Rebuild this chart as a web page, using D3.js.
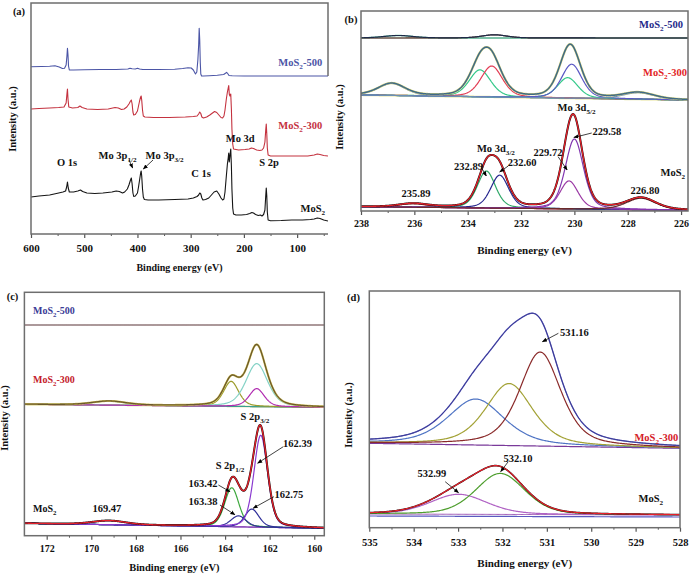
<!DOCTYPE html>
<html><head><meta charset="utf-8">
<script src="https://cdn.jsdelivr.net/npm/d3@7"></script>
<style>body{margin:0;background:#fff}svg{display:block}</style>
</head><body><svg id="c" width="690" height="578"></svg>
<script>
// ================= DATA =================
// (a) survey spectra: [binding energy eV, intensity a.u.]
const surveyTicks = [600, 500, 400, 300, 200, 100];
const surveyMoS2 = [[600,37],[585,38],[565,39],[548,41],[540,42],[535,43],[533,47],[531.5,52],[530,46],[528,42],[520,42],[512,43],[507,44],[503,42.5],[495,41],[480,40.5],[465,41],[448,42],[440,43],[434,42.5],[428,41],[424,42],[419,45],[416,49],[413,54],[411.5,56],[410,50],[408.5,41],[407,37.5],[404,38],[400,41],[398,47],[396,54],[394,61],[393,63],[392,58],[390.5,45],[389,37],[387,34.5],[380,34],[360,34],[330,34.5],[305,35],[295,36],[288,37.5],[285,39],[283,41],[281,40],[279,36],[277,34],[272,34.5],[266,36],[261,39],[256,42],[251,43],[247,40],[243,36],[240,34],[237.5,35],[235.5,42],[233,58],[231,70],[229.5,76],[228.5,81],[227.5,72],[226.3,78],[224.7,85],[223.5,68],[222.5,45],[221,26],[219.5,20],[215,19],[205,19],[195,19.5],[189,20.5],[185,21.5],[182,21],[178,19.5],[173,18.5],[169,19],[166,18],[163,19.5],[160.5,24],[159,38],[158,46],[157,38],[156,22],[154.5,14],[150,13.3],[130,13.5],[110,14],[90,14],[75,14.5],[68,15],[62,16],[57,15.5],[50,14],[42,13]];
const survey300 = [[600,125],[585,125.5],[565,126],[548,126.5],[538,127],[534,131],[532.5,140],[531.5,145],[530.5,135],[529,127],[522,126],[512,126.5],[508,128],[504,126.5],[495,125],[475,124.5],[455,125],[442,126.5],[436,126],[430,124.5],[425,125],[420,127],[416,130],[413,133],[411.5,134],[410,130],[408.5,122],[407,119],[404,119.5],[400,123],[398,128],[396,133],[394,137],[393,138],[392,134],[390.5,124],[389,118],[386,117],[370,116.5],[340,116.5],[310,117],[295,117.5],[288,118],[285,120],[283,122],[281,120.5],[279,117],[276,116],[270,117],[264,119],[259,121],[255,122.5],[251,121.5],[247,119],[243,116.5],[240,116],[237.5,118],[235.5,124],[233,135],[231,142],[229.5,146],[228.5,148.5],[227.5,140],[226.3,138],[224.7,140],[223.5,125],[222.5,105],[221,90],[219.5,85],[210,84],[198,84.5],[190,85],[186,86],[182,85.5],[176,84],[170,83.5],[166,84],[163,86],[160.5,92],[159,104],[158,110],[157,100],[156,86],[154.5,79],[150,78],[130,78],[100,78],[80,78],[68,79],[62,80],[57,79.5],[50,78.5],[42,78]];
const survey500 = [[600,167.3],[580,167.5],[565,167.8],[555,168.3],[547,167],[541,165.5],[537,165.8],[534,169],[532.5,178],[531.5,185.7],[530.5,179],[529.5,168],[528,164],[520,164],[500,164.3],[470,164.5],[440,164.5],[418,165],[414,165.8],[410,165.2],[404,165],[400,165.7],[396,165],[390,164.5],[360,164.5],[330,164.8],[315,165.5],[305,166.3],[299,166],[295,164],[291,160],[288.5,162],[286.5,174],[285,189],[284,205.7],[283,194],[282,172],[281,160],[279.5,158],[276,158],[265,158.3],[250,158.7],[238,159.5],[234,161],[232.5,161.7],[230.5,160.5],[228,158.5],[222,158.2],[200,158],[150,158],[100,158],[60,158],[42,158]];

// (b) Mo 3d fits: baseline [left,right], peak centres (eV), heights, FWHM (eV)
const bTicks = [238, 236, 234, 232, 230, 228, 226];
const b500Baseline = [173, 173];
const b500Center = [236.6, 233.0];
const b500Height = [2.5, 3.2];
const b500Fwhm = [1.3, 1.1];
const b300Baseline = [116, 111];
const b300Center = [236.85, 233.54, 233.1, 230.25, 230.1, 227.6];
const b300Height = [12, 27, 31, 20.5, 34, 6.5];
const b300Fwhm = [1.2, 0.95, 0.95, 0.9, 0.9, 1.4];
const bMoS2Baseline = [4.3, 0.8];
const bMoS2Center = [236.04, 233.3, 232.8, 230.2, 230.0, 227.5];
const bMoS2Height = [3.5, 37, 33, 28, 70, 11.5];
const bMoS2Fwhm = [1.3, 0.8, 0.8, 0.8, 0.8, 1.3];

// (c) S 2p fits
const cTicks = [172, 170, 168, 166, 164, 162, 160];
const c500Baseline = [210.7, 210.7];
const c300Baseline = [131.4, 128.4];
const c300Center = [169.2, 163.73, 162.58, 162.58];
const c300Height = [4, 25, 43, 18];
const c300Fwhm = [1.8, 0.8, 1.15, 0.8];
const cMoS2Baseline = [12.4, 7.4];
const cMoS2Center = [169.2, 163.7, 163.4, 162.8, 162.4];
const cMoS2Height = [4, 39, 11, 18, 92];
const cMoS2Fwhm = [1.8, 0.75, 0.8, 0.75, 0.72];

// (d) O 1s fits
const dTicks = [535, 534, 533, 532, 531, 530, 529, 528];
const d300Baseline = [84.4, 79.4];
const d300Center = [532.6, 531.85, 531.15];
const d300Height = [46, 62, 94];
const d300Fwhm = [1.5, 1.25, 1.1];
const dMoS2Baseline = [13.7, 12.7];
const dMoS2Center = [532.99, 532.05];
const dMoS2Height = [20, 41];
const dMoS2Fwhm = [1.5, 1.3];

// ================= DRAWING =================
const FONT = '"Liberation Serif","Times New Roman",serif';
const svg = d3.select("#c");
const defs = svg.append("defs");
defs.append("marker").attr("id","ah").attr("viewBox","0 0 10 10").attr("refX",9).attr("refY",5)
  .attr("markerWidth",5).attr("markerHeight",5).attr("markerUnits","userSpaceOnUse").attr("orient","auto")
  .append("path").attr("d","M0,1L10,5L0,9z").attr("fill","#000");

function txt(g, x, y, parts, o = {}) {
  const size = o.size || 10.5;
  const t = g.append("text").attr("x", x).attr("y", y).attr("font-size", size)
    .attr("fill", o.fill || "#111").attr("text-anchor", o.anchor || "start")
    .attr("font-family", FONT).attr("font-weight", "bold");
  if (o.rotate) t.attr("transform", `rotate(-90,${x},${y})`);
  let sub = false;
  parts.forEach(p => {
    const isSub = Array.isArray(p);
    const ts = t.append("tspan").text(isSub ? p[0] : p);
    if (isSub) { ts.attr("font-size", size * 0.68); if (!sub) ts.attr("dy", size * 0.32); sub = true; }
    else if (sub) { ts.attr("dy", -size * 0.32); sub = false; }
  });
  return t;
}

let clipId = 0;
function panel(P) {
  const x = d3.scaleLinear().domain(P.dom).range([P.l, P.r]);
  const y = d3.scaleLinear().domain([0, P.b - P.t]).range([P.b, P.t]);
  const g = svg.append("g");
  const id = "clip" + (clipId++);
  defs.append("clipPath").attr("id", id).append("rect")
    .attr("x", P.l).attr("y", P.t).attr("width", P.r - P.l).attr("height", P.b - P.t);
  const plot = g.append("g").attr("clip-path", `url(#${id})`);
  const line = d3.line().x(d => x(d[0])).y(d => y(d[1]));
  const major = d3.axisBottom(x).tickValues(P.ticks).tickSize(4).tickSizeOuter(0)
    .tickPadding(P.pad).tickFormat(d3.format("d"));
  const ax = g.append("g").attr("transform", `translate(0,${P.b})`).call(major);
  ax.select(".domain").remove();
  ax.selectAll("line").attr("stroke", "#555").attr("stroke-width", 1.2);
  ax.selectAll("text").attr("font-family", FONT).attr("font-weight", "bold")
    .attr("font-size", P.tickSize).attr("fill", "#111");
  const minor = d3.axisBottom(x).tickValues(P.minor).tickSize(2).tickSizeOuter(0).tickFormat("");
  const mx = g.append("g").attr("transform", `translate(0,${P.b})`).call(minor);
  mx.select(".domain").remove();
  mx.selectAll("line").attr("stroke", "#555").attr("stroke-width", 1);
  return { x, y, g, plot, line, P };
}
function box(S) {
  const P = S.P;
  S.g.append("rect").attr("x", P.l).attr("y", P.t).attr("width", P.r - P.l).attr("height", P.b - P.t)
    .attr("fill", "none").attr("stroke", "#6e6e6e").attr("stroke-width", 1.5);
}
function pv(e, c, h, w, eta) {
  const d = (e - c) / w;
  return h * (eta / (1 + 4 * d * d) + (1 - eta) * Math.exp(-4 * Math.LN2 * d * d));
}
function spectrum(S, baseLR, centers, heights, fwhms, eta) {
  const [d0, d1] = S.x.domain();
  const lo = Math.min(d0, d1), hi = Math.max(d0, d1);
  const grid = d3.range(lo, hi + 0.01, 0.02);
  const base = e => baseLR[0] + (baseLR[1] - baseLR[0]) * (d0 - e) / (d0 - d1);
  const comps = centers.map((c, i) => grid.map(e => [e, base(e) + pv(e, c, heights[i], fwhms[i], eta)]));
  const env = grid.map(e => [e, base(e) + d3.sum(centers, (c, i) => pv(e, c, heights[i], fwhms[i], eta))]);
  const bl = grid.map(e => [e, base(e)]);
  return { comps, env, bl };
}
function path(S, pts, col, w) {
  S.plot.append("path").attr("d", S.line(pts)).attr("fill", "none")
    .attr("stroke", col).attr("stroke-width", w).attr("stroke-linejoin", "round");
}
function arrow(S, a, b) {
  S.g.append("line").attr("x1", S.x(a[0])).attr("y1", S.y(a[1])).attr("x2", S.x(b[0])).attr("y2", S.y(b[1]))
    .attr("stroke", "#111").attr("stroke-width", 0.8).attr("marker-end", "url(#ah)");
}
const MOS2 = (suffix) => suffix ? ["MoS", ["2"], suffix] : ["MoS", ["2"]];

// ---------- Panel (a) ----------
const A = panel({ l: 31, r: 328, t: 3, b: 234, dom: [600, 42], ticks: surveyTicks,
  minor: [550, 450, 350, 250, 150, 50], pad: 6, tickSize: 11 });
path(A, survey500, "#4b55a6", 1.1);
path(A, survey300, "#c4323f", 1.1);
path(A, surveyMoS2, "#151515", 1.1);
A.g.append("path").attr("d", `M${A.P.r},${A.y(158)}L${A.P.r},${A.P.t}L${A.P.l},${A.P.t}L${A.P.l},${A.P.b}L${A.P.r},${A.P.b}`)
  .attr("fill", "none").attr("stroke", "#6e6e6e").attr("stroke-width", 1.5);
txt(A.g, A.x(53), A.y(168), MOS2("-500"), { anchor: "end", fill: "#4b55a6", size: 10.5 });
txt(A.g, A.x(53), A.y(105), MOS2("-300"), { anchor: "end", fill: "#c4323f", size: 10.5 });
txt(A.g, A.x(47.4), A.y(22), MOS2(), { anchor: "end", size: 10.5 });
txt(A.g, A.x(532.3), A.y(68), ["O 1s"], { anchor: "middle" });
txt(A.g, A.x(437.4), A.y(75), ["Mo 3p", ["1/2"]], { anchor: "middle" });
txt(A.g, A.x(349), A.y(75), ["Mo 3p", ["3/2"]], { anchor: "middle" });
txt(A.g, A.x(280.5), A.y(57), ["C 1s"], { anchor: "middle" });
txt(A.g, A.x(207), A.y(92), ["Mo 3d"], { anchor: "middle" });
txt(A.g, A.x(152.6), A.y(68), ["S 2p"], { anchor: "middle" });
arrow(A, [415.8, 74], [409, 66]);
arrow(A, [370.7, 74], [389, 65]);
txt(svg, 19, 14.5, ["(a)"], { anchor: "middle", size: 10.5 });
txt(svg, 179.5, 271, ["Binding energy (eV)"], { anchor: "middle", size: 10 });
txt(svg, 16, 119, ["Intensity (a.u.)"], { anchor: "middle", size: 10.5, rotate: true });

// ---------- Panel (b) ----------
const B = panel({ l: 361, r: 688, t: 11, b: 211, dom: [238, 225.74], ticks: bTicks,
  minor: [237, 235, 233, 231, 229, 227], pad: 5, tickSize: 10 });
{
  const s5 = spectrum(B, b500Baseline, b500Center, b500Height, b500Fwhm, 0.3);
  path(B, s5.bl, "#444", 1);
  path(B, s5.comps[0], "#6fc9a8", 1.4);
  path(B, s5.comps[1], "#6b4a3a", 1.2);
  path(B, s5.env, "#1e2a48", 1.2);
  const s3 = spectrum(B, b300Baseline, b300Center, b300Height, b300Fwhm, 0.35);
  path(B, s3.bl, "#e8e49a", 2.2);
  path(B, s3.bl, "#7a70a8", 1);
  const c3 = ["#6b8fb5", "#35c98a", "#e23d55", "#35c98a", "#5a58c4", "#6b8fb5"];
  s3.comps.forEach((c, i) => path(B, c, c3[i], 1.2));
  path(B, s3.env, "#dcd67a", 2.3);
  path(B, s3.env, "#3f6a88", 1.5);
  const sM = spectrum(B, bMoS2Baseline, bMoS2Center, bMoS2Height, bMoS2Fwhm, 0.35);
  path(B, sM.bl, "#e02a2a", 1);
  path(B, sM.bl, "#5b3a9a", 1.1);
  const cM = ["#c03030", "#2fa868", "#26268e", "#9b3aa5", "#8236b0", "#6b2a2a"];
  sM.comps.forEach((c, i) => path(B, c, cM[i], 1.2));
  path(B, sM.env, "#111", 2);
  path(B, sM.env, "#e8202a", 1.3);
}
box(B);
txt(B.g, B.x(225.93), B.y(183), MOS2("-500"), { anchor: "end", fill: "#1f2a8a" });
txt(B.g, B.x(225.78), B.y(135), MOS2("-300"), { anchor: "end", fill: "#e21f26" });
txt(B.g, B.x(225.85), B.y(35), MOS2(), { anchor: "end" });
txt(B.g, B.x(232.94), B.y(59), ["Mo 3d", ["3/2"]], { anchor: "middle" });
txt(B.g, B.x(229.92), B.y(100), ["Mo 3d", ["5/2"]], { anchor: "middle" });
txt(B.g, B.x(228.78), B.y(76), ["229.58"], { anchor: "middle" });
txt(B.g, B.x(230.99), B.y(55), ["229.72"], { anchor: "middle" });
txt(B.g, B.x(233.97), B.y(41), ["232.89"], { anchor: "middle" });
txt(B.g, B.x(231.96), B.y(45), ["232.60"], { anchor: "middle" });
txt(B.g, B.x(235.94), B.y(14), ["235.89"], { anchor: "middle" });
txt(B.g, B.x(227.35), B.y(17), ["226.80"], { anchor: "middle" });
arrow(B, [229.35, 78], [230.02, 73.5]);
arrow(B, [230.61, 54.3], [230.27, 41]);
arrow(B, [233.47, 42.7], [233.3, 35]);
arrow(B, [232.48, 45], [232.8, 39]);
txt(svg, 351, 23, ["(b)"], { anchor: "middle", size: 10.5 });
txt(svg, 524.5, 254, ["Binding energy (eV)"], { anchor: "middle", size: 11 });
txt(svg, 343, 117, ["Intensity (a.u.)"], { anchor: "middle", size: 10.5, rotate: true });

// ---------- Panel (c) ----------
const C = panel({ l: 24.4, r: 324.3, t: 292.3, b: 535.7, dom: [173, 159.55], ticks: cTicks,
  minor: [171, 169, 167, 165, 163, 161], pad: 5, tickSize: 10 });
{
  const s5 = spectrum(C, c500Baseline, [], [], [], 0.3);
  path(C, s5.bl, "#a58a8a", 1.6);
  path(C, s5.bl, "#8a7a80", 0.6);
  const s3 = spectrum(C, c300Baseline, c300Center, c300Height, c300Fwhm, 0.4);
  path(C, s3.bl, "#d8cf80", 1.6);
  path(C, s3.bl, "#8d8ac8", 0.9);
  const c3 = ["#3aa090", "#9c9c2c", "#84d2c6", "#b12db1"];
  s3.comps.forEach((c, i) => path(C, c, c3[i], 1.2));
  path(C, s3.env, "#d4c45a", 2.1);
  path(C, s3.env, "#6c5a2c", 1.3);
  const sM = spectrum(C, cMoS2Baseline, cMoS2Center, cMoS2Height, cMoS2Fwhm, 0.3);
  path(C, sM.bl, "#8a4ac0", 1.2);
  const cM = ["#8a4ab8", "#3da83d", "#30309a", "#30309a", "#8a3ad0"];
  sM.comps.forEach((c, i) => path(C, c, cM[i], 1.2));
  path(C, sM.env, "#111", 2);
  path(C, sM.env, "#e8202a", 1.3);
}
box(C);
txt(C.g, C.x(172.61), C.y(221.7), MOS2("-500"), { fill: "#3b3b96", size: 10 });
txt(C.g, C.x(172.61), C.y(152.7), MOS2("-300"), { fill: "#c4202a", size: 10 });
txt(C.g, C.x(172.61), C.y(23.7), MOS2(), { size: 10 });
txt(C.g, C.x(169.3), C.y(23.7), ["169.47"], { anchor: "middle" });
txt(C.g, C.x(164.99), C.y(48.7), ["163.42"], { anchor: "middle" });
txt(C.g, C.x(164.99), C.y(30.7), ["163.38"], { anchor: "middle" });
txt(C.g, C.x(161.14), C.y(37.7), ["162.75"], { anchor: "middle" });
txt(C.g, C.x(160.75), C.y(88.7), ["162.39"], { anchor: "middle" });
txt(C.g, C.x(163.78), C.y(66.7), ["S 2p", ["1/2"]], { anchor: "middle" });
txt(C.g, C.x(162.66), C.y(115.7), ["S 2p", ["3/2"]], { anchor: "middle" });
arrow(C, [164.3, 50.7], [163.78, 44]);
arrow(C, [164.23, 30.7], [163.56, 21]);
arrow(C, [161.81, 39], [162.74, 27.5]);
arrow(C, [161.39, 89], [162.54, 72.5]);
txt(svg, 12.5, 300, ["(c)"], { anchor: "middle", size: 10.5 });
txt(svg, 174.4, 571, ["Binding energy (eV)"], { anchor: "middle", size: 10.5 });
txt(svg, 8, 418, ["Intensity (a.u.)"], { anchor: "middle", size: 10.5, rotate: true });

// ---------- Panel (d) ----------
const D = panel({ l: 369.3, r: 680, t: 291, b: 527.7, dom: [535, 528], ticks: dTicks,
  minor: [534.5, 533.5, 532.5, 531.5, 530.5, 529.5, 528.5], pad: 7, tickSize: 10.5 });
{
  const s3 = spectrum(D, d300Baseline, d300Center, d300Height, d300Fwhm, 0.5);
  path(D, s3.bl, "#7a3a9a", 1.2);
  const c3 = ["#4f74c4", "#a3a236", "#8a2a2a"];
  s3.comps.forEach((c, i) => path(D, c, c3[i], 1.2));
  path(D, s3.env, "#6464c0", 1.4);
  path(D, s3.env, "#2c2c86", 0.8);
  const sM = spectrum(D, dMoS2Baseline, dMoS2Center, dMoS2Height, dMoS2Fwhm, 0.3);
  path(D, sM.bl.map(d => [d[0], d[1] - 2]), "#5a5ac0", 1.2);
  path(D, sM.bl, "#9a50b0", 1);
  const cM = ["#b062c4", "#4e9e2e"];
  sM.comps.forEach((c, i) => path(D, c, cM[i], 1.2));
  path(D, sM.env, "#111", 1.6);
  path(D, sM.env, "#e8202a", 1.2);
}
box(D);
txt(D.g, D.x(530.38), D.y(191.7), ["531.16"], { anchor: "middle" });
txt(D.g, D.x(531.65), D.y(65.7), ["532.10"], { anchor: "middle" });
txt(D.g, D.x(533.59), D.y(50.7), ["532.99"], { anchor: "middle" });
txt(D.g, D.x(528.04), D.y(86.7), MOS2("-300"), { anchor: "end", fill: "#d42028" });
txt(D.g, D.x(528.38), D.y(25.7), MOS2(), { anchor: "end" });
arrow(D, [530.74, 194.4], [531.1, 186]);
arrow(D, [531.87, 66], [532.04, 56]);
arrow(D, [533.29, 46], [532.99, 35]);
txt(svg, 353.5, 300.5, ["(d)"], { anchor: "middle", size: 10.5 });
txt(svg, 524.7, 567, ["Binding energy (eV)"], { anchor: "middle", size: 11 });
txt(svg, 352, 415, ["Intensity (a.u.)"], { anchor: "middle", size: 10.5, rotate: true });
</script></body></html>
